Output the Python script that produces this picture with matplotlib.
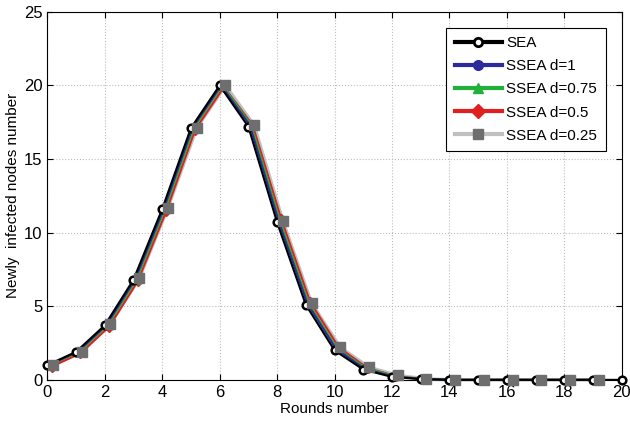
import numpy as np
import matplotlib.pyplot as plt
from matplotlib.lines import Line2D

plt.rcParams["font.family"] = ["Liberation Sans", "DejaVu Sans"]

rounds = np.arange(0, 21)

sea = [1.0, 1.9, 3.7, 6.8, 11.6, 17.1, 20.0, 17.2, 10.7, 5.1, 2.0, 0.7, 0.2, 0.05,
       0, 0, 0, 0, 0, 0, 0]
ssea_d1 = [1.0, 1.9, 3.7, 6.8, 11.6, 17.1, 20.0, 17.3, 10.8, 5.2, 2.1, 0.75, 0.22, 0.05,
           0, 0, 0, 0, 0, 0]
ssea_d075 = [1.0, 1.9, 3.7, 6.8, 11.6, 17.1, 20.0, 17.3, 10.8, 5.2, 2.1, 0.8, 0.25, 0.05,
             0, 0, 0, 0, 0, 0]
ssea_d05 = [0.9, 1.8, 3.6, 6.7, 11.5, 17.0, 19.9, 17.3, 10.9, 5.3, 2.2, 0.8, 0.25, 0.05,
            0, 0, 0, 0, 0, 0]
ssea_d025 = [1.0, 1.9, 3.8, 6.9, 11.7, 17.1, 20.0, 17.3, 10.8, 5.2, 2.2, 0.85, 0.3, 0.06,
             0, 0, 0, 0, 0, 0]

series = [
    ("SEA", sea, "black", "o", 0.0),
    ("SSEA d=1", ssea_d1, "#2b2b9a", "o", 0.05),
    ("SSEA d=0.75", ssea_d075, "#22b03a", "^", 0.1),
    ("SSEA d=0.5", ssea_d05, "#e0201e", "D", 0.15),
    ("SSEA d=0.25", ssea_d025, "#c0c0c0", "s", 0.2),
]

fig = plt.figure(figsize=(6.3, 4.23), dpi=100)
ax = fig.add_axes([0.075, 0.102, 0.912, 0.870])

handles = []
for i, (label, values, color, marker, shift) in enumerate(series):
    x = rounds[:len(values)] + shift
    if label == "SEA":
        ax.plot(x, values, color=color, lw=1.5, marker=marker, ms=5.5,
                mfc="white", mec="black", mew=1.8, zorder=6, clip_on=False)
        handles.append(Line2D([], [], color=color, lw=3, marker=marker, ms=6,
                              mfc="white", mec="black", mew=2, label=label))
    elif label == "SSEA d=0.25":
        # grey line under the others, its square markers on top
        ax.plot(x, values, color=color, lw=2.5, zorder=2, clip_on=False)
        ax.plot(x, values, linestyle="none", marker=marker, ms=7,
                mfc="#6e6e6e", mec="#6e6e6e", zorder=7, clip_on=False)
        handles.append(Line2D([], [], color=color, lw=3, marker=marker, ms=7.5,
                              mfc="#6e6e6e", mec="#6e6e6e", label=label))
    else:
        ax.plot(x, values, color=color, lw=1.5, marker=marker, ms=5.5,
                mfc=color, mec=color, zorder=6 - i, clip_on=False)
        handles.append(Line2D([], [], color=color, lw=3, marker=marker, ms=7,
                              mfc=color, mec=color, label=label))

ax.set_xlim(0, 20)
ax.set_ylim(0, 25)
ax.set_xticks(np.arange(0, 21, 2))
ax.set_yticks(np.arange(0, 26, 5))
ax.grid(True, color="#bdbdbd", linestyle=":", linewidth=0.8)
ax.set_axisbelow(True)
ax.tick_params(direction="in", top=True, right=True, labelsize=12, length=4)
for spine in ax.spines.values():
    spine.set_linewidth(0.8)
    spine.set_zorder(1)

ax.set_xlabel("Rounds number", fontsize=11, labelpad=2)
ax.set_ylabel("Newly  infected nodes number", fontsize=11, labelpad=3)

leg = ax.legend(handles=handles, loc="upper right", bbox_to_anchor=(0.972, 0.957),
                borderaxespad=0, fontsize=11, fancybox=False, framealpha=1,
                edgecolor="black", handlelength=3.1, borderpad=0.55,
                labelspacing=0.6, handletextpad=0.3)
leg.get_frame().set_linewidth(0.8)
leg.set_zorder(10)

fig.savefig("out.png", dpi=100)
